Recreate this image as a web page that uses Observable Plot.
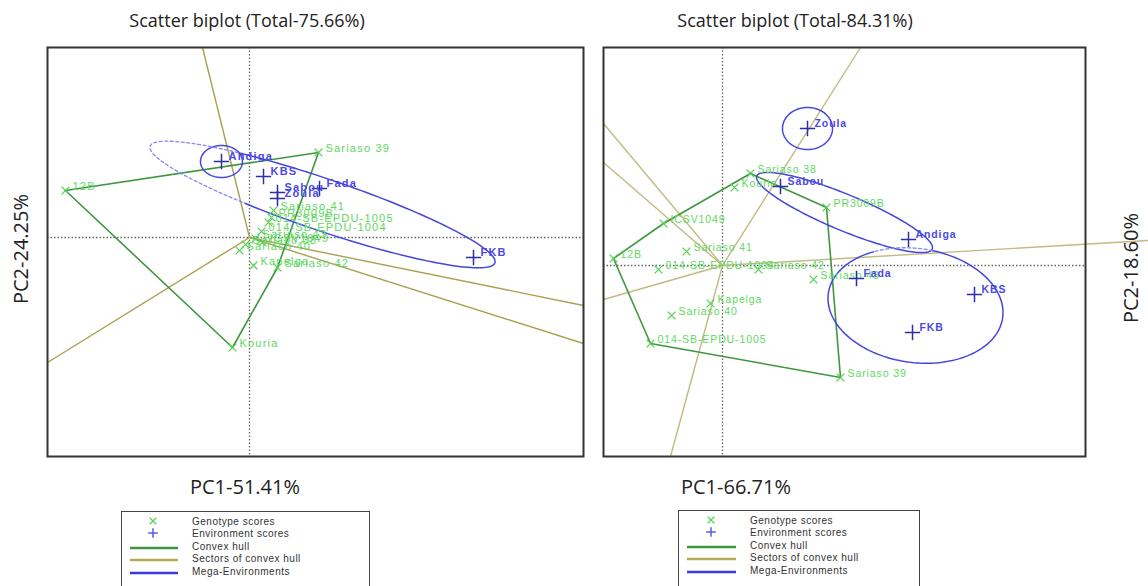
<!DOCTYPE html>
<html><head><meta charset="utf-8">
<script src="https://cdn.jsdelivr.net/npm/d3@7"></script>
<script src="https://cdn.jsdelivr.net/npm/@observablehq/plot@0.6"></script>
<style>
body{margin:0;background:#fff;}
#root{position:relative;width:1148px;height:586px;overflow:hidden;background:#fff;font-family:"Open Sans",sans-serif;}
.t{position:absolute;color:#222;white-space:nowrap;line-height:1;transform:translate(-50%,-50%);}
.title{font-size:18px;}
.ax{font-size:20px;}
.rot{transform:translate(-50%,-50%) rotate(-90deg);}
.panel{position:absolute;top:0;}
.leg{position:absolute;border:1.5px solid #444;background:#fff;}
</style></head><body><div id="root"></div>
<script>
// ---------- DATA ----------
const titles = ["Scatter biplot (Total-75.66%)", "Scatter biplot (Total-84.31%)"];
const xLabels = ["PC1-51.41%", "PC1-66.71%"];
const yLabels = ["PC2-24.25%", "PC2-18.60%"];
const legendLabels = ["Genotype scores", "Environment scores", "Convex hull", "Sectors of convex hull", "Mega-Environments"];

// Left biplot
const leftGenotypes = [
  {name: "12B", pc1: -3.68, pc2: 0.94},
  {name: "Sariaso 39", pc1: 1.38, pc2: 1.70},
  {name: "Kouria", pc1: -0.34, pc2: -2.20},
  {name: "Sariaso 41", pc1: 0.48, pc2: 0.54},
  {name: "PR3009B", pc1: 0.44, pc2: 0.40},
  {name: "014-SB-EPDU-1005", pc1: 0.38, pc2: 0.30},
  {name: "014-SB-EPDU-1004", pc1: 0.24, pc2: 0.12},
  {name: "ICSV1049", pc1: 0.26, pc2: -0.10},
  {name: "Sariaso 43", pc1: 0.12, pc2: -0.02},
  {name: "Sariaso 38", pc1: -0.08, pc2: -0.14},
  {name: "Sariaso 40", pc1: -0.20, pc2: -0.26},
  {name: "Kapelga", pc1: 0.08, pc2: -0.56},
  {name: "Sariaso 42", pc1: 0.56, pc2: -0.60}
];
const leftEnvironments = [
  {name: "Andiga", pc1: -0.56, pc2: 1.52},
  {name: "KBS", pc1: 0.28, pc2: 1.22},
  {name: "Sabou", pc1: 0.56, pc2: 0.90},
  {name: "Zoula", pc1: 0.56, pc2: 0.78},
  {name: "Fada", pc1: 1.40, pc2: 0.98},
  {name: "FKB", pc1: 4.48, pc2: -0.40}
];
const leftHull = ["12B", "Sariaso 39", "Sariaso 42", "Kouria"];
const leftSectors = [
  {pc1: -0.94, pc2: 3.80},
  {pc1: -4.04, pc2: -2.50},
  {pc1: 6.68, pc2: -1.36},
  {pc1: 6.68, pc2: -2.12}
];
const leftMega = [
  {pc1: -0.56, pc2: 1.52, a: 0.42, b: 0.32, angle: 0},
  {pc1: 1.46, pc2: 0.66, a: 3.64, b: 0.52, angle: -18.7, dash: [122, 246]}
];

// Right biplot
const rightGenotypes = [
  {name: "12B", pc1: -2.18, pc2: 0.14},
  {name: "ICSV1049", pc1: -1.18, pc2: 0.84},
  {name: "Sariaso 38", pc1: 0.56, pc2: 1.84},
  {name: "Kouria", pc1: 0.24, pc2: 1.56},
  {name: "PR3009B", pc1: 2.08, pc2: 1.16},
  {name: "Sariaso 41", pc1: -0.72, pc2: 0.28},
  {name: "014-SB-EPDU-1004", pc1: -1.28, pc2: -0.08},
  {name: "Sariaso 42", pc1: 0.72, pc2: -0.08},
  {name: "Sariaso 43", pc1: 1.82, pc2: -0.28},
  {name: "Kapelga", pc1: -0.24, pc2: -0.76},
  {name: "Sariaso 40", pc1: -1.02, pc2: -1.00},
  {name: "014-SB-EPDU-1005", pc1: -1.44, pc2: -1.56},
  {name: "Sariaso 39", pc1: 2.36, pc2: -2.24}
];
const rightEnvironments = [
  {name: "Zoula", pc1: 1.70, pc2: 2.74},
  {name: "Sabou", pc1: 1.16, pc2: 1.58},
  {name: "Andiga", pc1: 3.72, pc2: 0.52},
  {name: "Fada", pc1: 2.68, pc2: -0.26},
  {name: "KBS", pc1: 5.04, pc2: -0.58},
  {name: "FKB", pc1: 3.80, pc2: -1.34}
];
const rightHull = ["12B", "ICSV1049", "Sariaso 38", "PR3009B", "Sariaso 39", "014-SB-EPDU-1005"];
const rightSectors = [
  {pc1: 2.76, pc2: 4.36},
  {pc1: -1.04, pc2: -3.82},
  {pc1: -2.38, pc2: 2.84},
  {pc1: -2.38, pc2: 2.06},
  {pc1: -2.38, pc2: -0.68},
  {pc1: 8.52, pc2: 0.50}
];
const rightMega = [
  {pc1: 1.70, pc2: 2.74, a: 0.50, b: 0.42, angle: 0},
  {pc1: 2.44, pc2: 1.06, a: 1.90, b: 0.36, angle: -22.6},
  {pc1: 3.86, pc2: -0.80, a: 1.76, b: 1.14, angle: -8, dash: [84, 124]}
];

// ---------- STYLE ----------
const C = {
  geno: "#55d055", genoLabel: "#5ed85e", env: "#2e2ea6", envLabel: "#4a4ae2",
  hull: "#3f963f", mega: "#4545e0", megaDash: "#8a8aec", axis: "#666"
};

function ellipsePoints(list) {
  const solid = [], dashed = [];
  list.forEach((e, i) => {
    const th = e.angle * Math.PI / 180;
    const pt = (deg) => {
      const t = deg * Math.PI / 180, X = e.a * Math.cos(t), Y = e.b * Math.sin(t);
      return {pc1: e.pc1 + X * Math.cos(th) - Y * Math.sin(th), pc2: e.pc2 + X * Math.sin(th) + Y * Math.cos(th), id: i};
    };
    const s0 = e.dash ? e.dash[1] : 0, s1 = e.dash ? e.dash[0] + 360 : 360;
    for (let t = s0; t <= s1 + 0.001; t += 2) solid.push(pt(t));
    if (e.dash) for (let t = e.dash[0]; t <= e.dash[1] + 0.001; t += 2) dashed.push(pt(t));
  });
  return {solid, dashed};
}

function panel(o) {
  const byName = new Map(o.genos.map(d => [d.name, d]));
  const hull = o.hull.map(n => byName.get(n));
  hull.push(hull[0]);
  const ell = ellipsePoints(o.mega);
  return Plot.plot({
    width: o.width, height: o.height,
    marginLeft: o.ml, marginRight: o.mr, marginTop: o.mt, marginBottom: o.mb,
    x: {domain: o.xd, axis: null},
    y: {domain: o.yd, axis: null},
    style: {overflow: "visible", background: "transparent", fontFamily: "'Liberation Sans', Arial, sans-serif", letterSpacing: o.ls},
    marks: [
      Plot.ruleX([0], {stroke: C.axis, strokeDasharray: "1.5,2", strokeWidth: 1.3}),
      Plot.ruleY([0], {stroke: C.axis, strokeDasharray: "1.5,2", strokeWidth: 1.3}),
      Plot.link(o.sectors, {x1: d => 0, y1: d => 0, x2: "pc1", y2: "pc2", stroke: o.sectorColor, strokeWidth: 1.4}),
      Plot.line(hull, {x: "pc1", y: "pc2", stroke: C.hull, strokeWidth: 1.6}),
      Plot.line(ell.solid, {x: "pc1", y: "pc2", z: "id", stroke: C.mega, strokeWidth: 1.5, curve: "linear"}),
      Plot.line(ell.dashed, {x: "pc1", y: "pc2", z: "id", stroke: C.megaDash, strokeWidth: 1.3, strokeDasharray: "3,2.5"}),
      Plot.dot(o.genos, {x: "pc1", y: "pc2", symbol: "times", r: 3.6, stroke: C.geno, strokeWidth: 1.3}),
      Plot.text(o.genos, {x: "pc1", y: "pc2", text: "name", textAnchor: "start", dx: 7, dy: -4, fill: C.genoLabel, fontSize: o.fs}),
      Plot.dot(o.envs, {x: "pc1", y: "pc2", symbol: "plus", r: 5, stroke: C.env, strokeWidth: 1.5}),
      Plot.text(o.envs, {x: "pc1", y: "pc2", text: "name", textAnchor: "start", dx: 7, dy: -5, fill: C.envLabel, fontSize: o.fs, fontWeight: "bold"}),
      Plot.frame({stroke: "#333", strokeWidth: 2})
    ]
  });
}

const root = document.getElementById("root");

function addPanel(svg, left) {
  const d = document.createElement("div");
  d.className = "panel";
  d.style.left = left + "px";
  d.appendChild(svg);
  root.appendChild(d);
}

// Left: frame x 47..583, y 47..456 ; 50 px per unit, origin at (249,237)
addPanel(panel({
  genos: leftGenotypes, envs: leftEnvironments, hull: leftHull, sectors: leftSectors, mega: leftMega,
  sectorColor: "#aaa052", fs: 11, ls: "1.2px",
  width: 590, height: 470, ml: 47, mr: 7, mt: 47, mb: 14,
  xd: [-4.04, 6.68], yd: [-4.38, 3.80]
}), 0);

// Right: frame x 603..1085, y 47..456 ; origin at (722,265)
addPanel(panel({
  genos: rightGenotypes, envs: rightEnvironments, hull: rightHull, sectors: rightSectors, mega: rightMega,
  sectorColor: "#c2ba80", fs: 10.5, ls: "0.9px",
  width: 552, height: 470, ml: 7, mr: 63, mt: 47, mb: 14,
  xd: [-2.38, 7.26], yd: [-3.82, 4.36]
}), 596);

function addText(txt, cls, x, y) {
  const d = document.createElement("div");
  d.className = "t " + cls;
  d.textContent = txt;
  d.style.left = x + "px";
  d.style.top = y + "px";
  root.appendChild(d);
}
addText(titles[0], "title", 247, 20);
addText(titles[1], "title", 795, 20);
addText(xLabels[0], "ax", 245, 487);
addText(xLabels[1], "ax", 736, 487);
addText(yLabels[0], "ax rot", 21, 249);
addText(yLabels[1], "ax rot", 1131, 268);

function addLegend(left, top, width, symX, lineX0, lineX1, textX) {
  const box = document.createElement("div");
  box.className = "leg";
  box.style.left = left + "px";
  box.style.top = top + "px";
  box.style.width = width + "px";
  box.style.height = "90px";
  const svg = d3.create("svg").attr("width", width).attr("height", 90)
    .style("font-family", "'Liberation Sans', Arial, sans-serif").style("font-size", "10px").style("letter-spacing", "0.5px");
  const rows = [9, 21, 34, 46, 59];
  svg.append("path").attr("d", d3.symbol(d3.symbolTimes, 30)()).attr("transform", `translate(${symX},${rows[0]})`)
    .attr("stroke", C.geno).attr("fill", "none").attr("stroke-width", 1.2);
  svg.append("path").attr("d", d3.symbol(d3.symbolPlus, 32)()).attr("transform", `translate(${symX},${rows[1]})`)
    .attr("stroke", "#5a5af0").attr("fill", "none").attr("stroke-width", 1.5);
  [[C.hull, rows[2]], ["#b3aa55", rows[3]], ["#3a3ae2", rows[4]]].forEach(([c, y]) => {
    svg.append("line").attr("x1", lineX0).attr("x2", lineX1).attr("y1", y + 2).attr("y2", y + 2)
      .attr("stroke", c).attr("stroke-width", 2.5);
  });
  legendLabels.forEach((l, i) => {
    svg.append("text").attr("x", textX).attr("y", rows[i]).attr("dy", "0.35em").attr("fill", "#333").text(l);
  });
  box.appendChild(svg.node());
  root.appendChild(box);
}
addLegend(121, 511, 247, 31, 8, 56, 70);
addLegend(678, 510, 240, 32, 8, 57, 71);
</script></body></html>
